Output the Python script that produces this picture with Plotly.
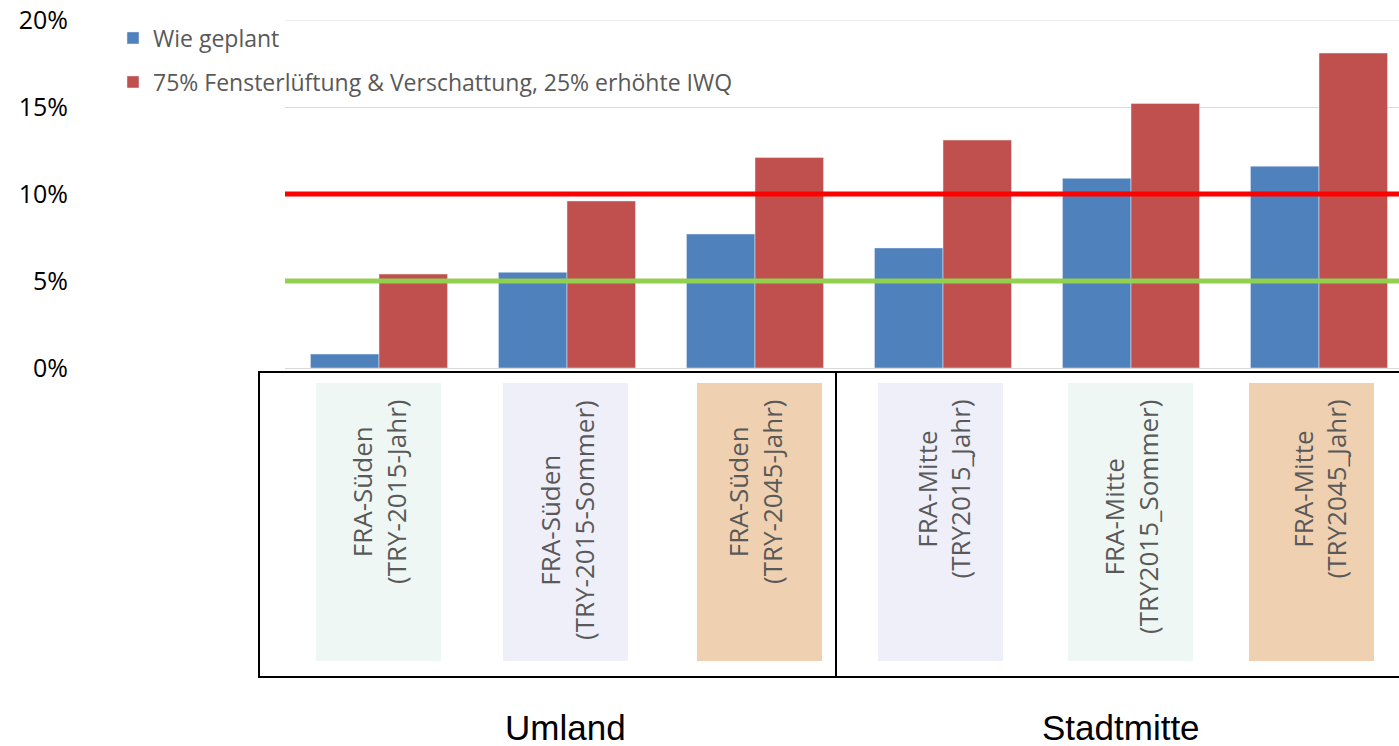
import plotly.graph_objects as go

# --- data -------------------------------------------------------------
sites = ["FRA-Süden", "FRA-Süden", "FRA-Süden", "FRA-Mitte", "FRA-Mitte", "FRA-Mitte"]
periods = ["(TRY-2015-Jahr)", "(TRY-2015-Sommer)", "(TRY-2045-Jahr)",
           "(TRY2015_Jahr)", "(TRY2015_Sommer)", "(TRY2045_Jahr)"]
categories = [f"{s} {p}" for s, p in zip(sites, periods)]

planned = [0.8, 5.5, 7.7, 6.9, 10.9, 11.6]
ventilation = [5.4, 9.6, 12.1, 13.1, 15.2, 18.1]

series_names = ["Wie geplant", "75% Fensterlüftung & Verschattung, 25% erhöhte IWQ"]
groups = ["Umland", "Stadtmitte"]
limit_high = 10
limit_low = 5

y_ticks = [0, 5, 10, 15, 20]
y_tick_labels = ["0%", "5%", "10%", "15%", "20%"]

# --- layout geometry --------------------------------------------------
W, H = 1399, 746
L, R, T, B = 285, 0, 20, 378
PW, PH = W - L - R, H - T - B
CAT_PX = 188  # width of one category slot in pixels
GRID = "#D9D9D9"


def px_x(px):
    return (px - L) / PW


def px_y(py):
    return (H - B - py) / PH


# background panels behind the category labels (pixel centres, fill)
panel_centers = [378.5, 565.5, 759.5, 940.5, 1130.5, 1311.5]
label_fill = ["#EEF7F3", "#EFEFF9", "#EFD1B1", "#EFEFF9", "#EEF7F3", "#EFD1B1"]

fig = go.Figure()
fig.add_trace(go.Bar(x=categories, y=planned, name=series_names[0],
                     marker_color="#4F81BD", legend="legend"))
fig.add_trace(go.Bar(x=categories, y=ventilation, name=series_names[1],
                     marker_color="#C0504D", legend="legend2"))

# top gridline at the range edge
fig.add_hline(y=y_ticks[-1], line=dict(color=GRID, width=1), layer="below")
# threshold lines
fig.add_hline(y=limit_high, line=dict(color="#FF0000", width=5))
fig.add_hline(y=limit_low, line=dict(color="#92D050", width=5))

shapes = list(fig.layout.shapes)
annotations = []
for i, cat in enumerate(categories):
    c = panel_centers[i]
    shapes.append(dict(type="rect", xref="paper", yref="paper",
                       x0=px_x(c - 62.5), x1=px_x(c + 62.5),
                       y0=px_y(383), y1=px_y(661),
                       fillcolor=label_fill[i], line=dict(width=0), layer="below"))
    annotations.append(dict(xref="x", yref="paper", x=i, y=px_y(398),
                            xanchor="center", yanchor="top", textangle=-90,
                            text=f"{sites[i]}<br>{periods[i]}", showarrow=False,
                            align="center",
                            font=dict(family="Open Sans", size=26, color="#595959")))

# frame around the category labels
frame = dict(color="black", width=2)
shapes.append(dict(type="rect", xref="paper", yref="paper",
                   x0=px_x(259), x1=px_x(1410), y0=px_y(677), y1=px_y(372),
                   line=frame, fillcolor="rgba(0,0,0,0)"))
shapes.append(dict(type="line", xref="paper", yref="paper",
                   x0=px_x(836), x1=px_x(836), y0=px_y(677), y1=px_y(372), line=frame))

for g, cx in zip(groups, [565, 1121]):
    annotations.append(dict(xref="paper", yref="paper", x=px_x(cx), y=px_y(727),
                            xanchor="center", yanchor="middle", text=g, showarrow=False,
                            font=dict(family="Liberation Sans", size=35, color="black")))

legend_style = dict(xref="container", yref="container", xanchor="left", yanchor="middle",
                    bgcolor="rgba(0,0,0,0)", itemwidth=30,
                    font=dict(family="Open Sans", size=23, color="#595959"))

fig.update_layout(
    width=W, height=H,
    margin=dict(l=L, r=R, t=T, b=B, pad=0, autoexpand=False),
    paper_bgcolor="white", plot_bgcolor="white",
    barmode="group", bargap=0.271, bargroupgap=0,
    showlegend=True,
    legend=dict(x=113 / W, y=1 - 38 / H, **legend_style),
    legend2=dict(x=113 / W, y=1 - 82 / H, **legend_style),
    shapes=shapes, annotations=annotations,
    xaxis=dict(range=[-0.5, -0.5 + PW / CAT_PX], showticklabels=False, showgrid=False,
               zeroline=False, showline=False, ticks="", automargin=False),
    yaxis=dict(range=[0, 20], tickvals=y_ticks, ticktext=y_tick_labels,
               showgrid=True, gridcolor=GRID, gridwidth=1,
               zeroline=True, zerolinecolor=GRID, zerolinewidth=1,
               showline=False, ticks="", ticklabelstandoff=216, automargin=False,
               tickfont=dict(family="Open Sans", size=25, color="black")),
)

fig.write_html("out.html")
